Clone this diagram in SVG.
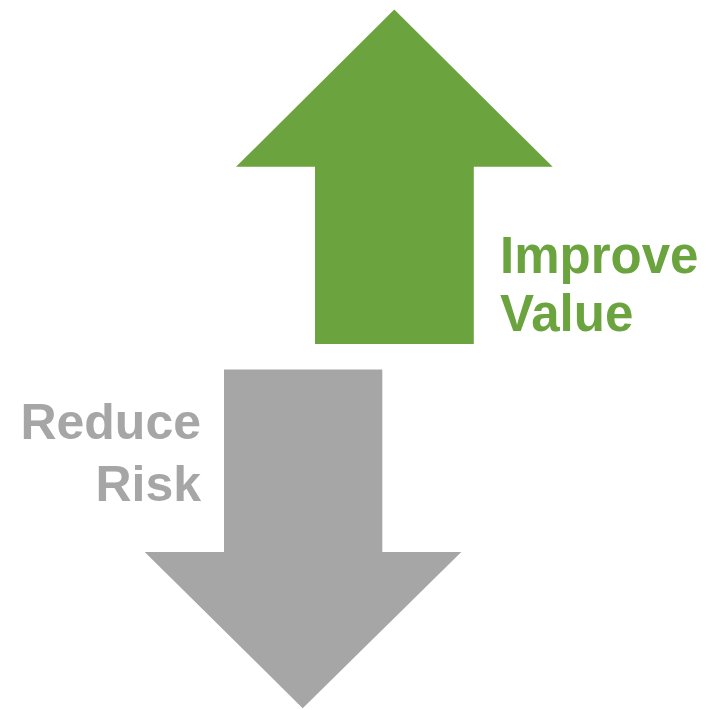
<svg xmlns="http://www.w3.org/2000/svg" width="710" height="710" viewBox="0 0 710 710">
  <style>
    .lbl { font-family: "Liberation Sans", Arial, sans-serif; font-weight: bold; font-size: 50px; }
    .big { font-size: 51px; }
    .up { fill: #6BA43E; }
    .down { fill: #A6A6A6; }
  </style>
  <rect width="710" height="710" fill="#FFFFFF"/>
  <g id="improve-value">
    <polygon class="up" points="394.3,9.5 552.7,166.8 473.8,166.8 473.8,344 315,344 315,166.8 236,166.8"/>
    <text class="lbl big up" x="500" y="273">Improve</text>
    <text class="lbl big up" x="500" y="331">Value</text>
  </g>
  <g id="reduce-risk">
    <polygon class="down" points="224,369.5 382.3,369.5 382.3,552 461.3,552 302.7,708.3 144.7,552 224,552"/>
    <text class="lbl down" x="201" y="439" text-anchor="end">Reduce</text>
    <text class="lbl down" x="201" y="501" text-anchor="end">Risk</text>
  </g>
  <g id="connectors"/>
</svg>
